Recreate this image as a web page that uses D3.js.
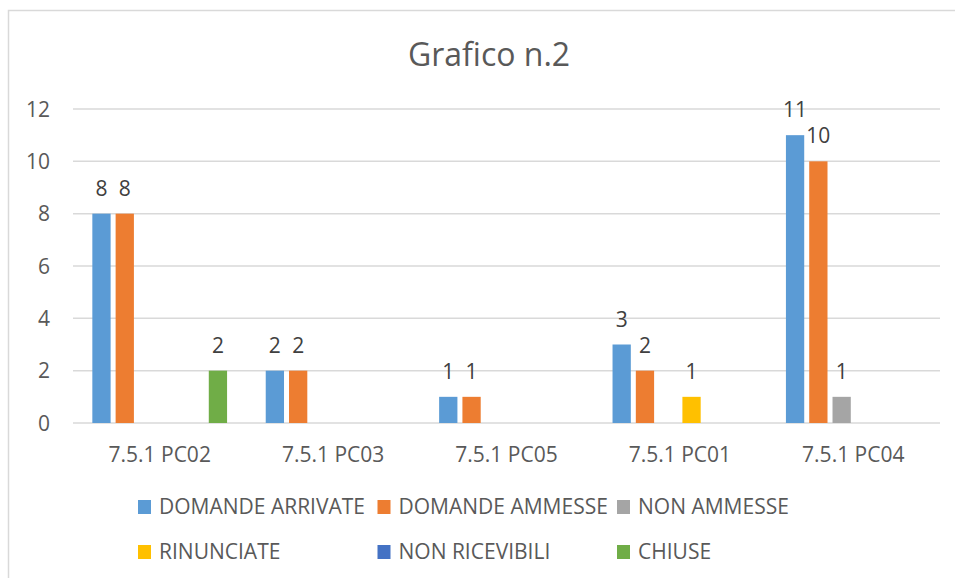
<!DOCTYPE html>
<html>
<head>
<meta charset="utf-8">
<script src="https://cdn.jsdelivr.net/npm/d3@7"></script>
<style>
  body { margin: 0; background: #fff; }
  svg { display: block; font-family: "Open Sans", sans-serif; }
</style>
</head>
<body>
<div id="chart"></div>
<script>
// dati - data
var categories = ["7.5.1 PC02", "7.5.1 PC03", "7.5.1 PC05", "7.5.1 PC01", "7.5.1 PC04"];
var seriesNames = ["DOMANDE ARRIVATE", "DOMANDE AMMESSE", "NON AMMESSE", "RINUNCIATE", "NON RICEVIBILI", "CHIUSE"];
var seriesColors = ["#5B9BD5", "#ED7D31", "#A5A5A5", "#FFC000", "#4472C4", "#70AD47"];

var domandeArrivate = [8, 2, 1, 3, 11];
var domandeAmmesse  = [8, 2, 1, 2, 10];
var nonAmmesse      = [0, 0, 0, 0, 1];
var rinunciate      = [0, 0, 0, 1, 0];
var nonRicevibili   = [0, 0, 0, 0, 0];
var chiuse          = [2, 0, 0, 0, 0];

var yTicks = [0, 2, 4, 6, 8, 10, 12];

var seriesValues = [domandeArrivate, domandeAmmesse, nonAmmesse, rinunciate, nonRicevibili, chiuse];

var W = 955, H = 578;
var plot = {left: 73, right: 940, top: 109, bottom: 423};

var svg = d3.select('#chart')
  .append('svg')
  .attr('width', W)
  .attr('height', H);

// bordo del grafico - chart frame (right/bottom edges are cut off)
svg.append('rect')
  .attr('x', 8.5).attr('y', 10.5)
  .attr('width', 1000).attr('height', 600)
  .attr('fill', '#fff')
  .attr('stroke', '#d9d9d9')
  .attr('stroke-width', 1.5);

// titolo
svg.append('text')
  .attr('x', 489).attr('y', 66)
  .attr('text-anchor', 'middle')
  .attr('fill', '#595959')
  .attr('font-size', 32)
  .text('Grafico n.2');

var x0 = d3.scaleBand()
  .domain(categories)
  .range([plot.left, plot.right]);

var x1 = d3.scaleBand()
  .domain(seriesNames)
  .range([0, x0.bandwidth()])
  .paddingInner(0.215)
  .paddingOuter(0.83);

var y = d3.scaleLinear()
  .domain([0, 12])
  .range([plot.bottom, plot.top]);

// griglia - gridlines
svg.append('g')
  .selectAll('line')
  .data(yTicks)
  .join('line')
  .attr('x1', plot.left).attr('x2', plot.right)
  .attr('y1', function(d) { return y(d); })
  .attr('y2', function(d) { return y(d); })
  .attr('stroke', '#d9d9d9')
  .attr('stroke-width', 1.5);

// etichette asse y
svg.append('g')
  .selectAll('text')
  .data(yTicks)
  .join('text')
  .attr('x', 50)
  .attr('y', function(d) { return y(d) + 7.5; })
  .attr('text-anchor', 'end')
  .attr('fill', '#595959')
  .attr('font-size', 21)
  .text(function(d) { return d; });

// etichette categorie
svg.append('g')
  .selectAll('text')
  .data(categories)
  .join('text')
  .attr('x', function(d) { return x0(d) + x0.bandwidth() / 2; })
  .attr('y', 462)
  .attr('text-anchor', 'middle')
  .attr('fill', '#595959')
  .attr('font-size', 21)
  .text(function(d) { return d; });

// barre
var rows = [];
categories.forEach(function(c, i) {
  seriesNames.forEach(function(s, j) {
    rows.push({cat: c, name: s, color: seriesColors[j], value: seriesValues[j][i]});
  });
});

var visible = rows.filter(function(d) { return d.value > 0; });

svg.append('g')
  .selectAll('rect')
  .data(visible)
  .join('rect')
  .attr('x', function(d) { return x0(d.cat) + x1(d.name); })
  .attr('y', function(d) { return y(d.value); })
  .attr('width', x1.bandwidth())
  .attr('height', function(d) { return y(0) - y(d.value); })
  .attr('fill', function(d) { return d.color; });

// valori sopra le barre
svg.append('g')
  .selectAll('text')
  .data(visible)
  .join('text')
  .attr('x', function(d) { return x0(d.cat) + x1(d.name) + x1.bandwidth() / 2; })
  .attr('y', function(d) { return y(d.value) - 18; })
  .attr('text-anchor', 'middle')
  .attr('fill', '#404040')
  .attr('font-size', 21)
  .text(function(d) { return d.value; });

// legenda - 3 colonne, 2 righe
var legend = svg.append('g')
  .selectAll('g')
  .data(seriesNames)
  .join('g')
  .attr('transform', function(d, i) {
    return 'translate(' + (138 + (i % 3) * 239.5) + ',' + (500 + Math.floor(i / 3) * 45) + ')';
  });

legend.append('rect')
  .attr('width', 13).attr('height', 14)
  .attr('fill', function(d, i) { return seriesColors[i]; });

legend.append('text')
  .attr('x', 21).attr('y', 14)
  .attr('fill', '#595959')
  .attr('font-size', 21)
  .text(function(d) { return d; });
</script>
</body>
</html>
